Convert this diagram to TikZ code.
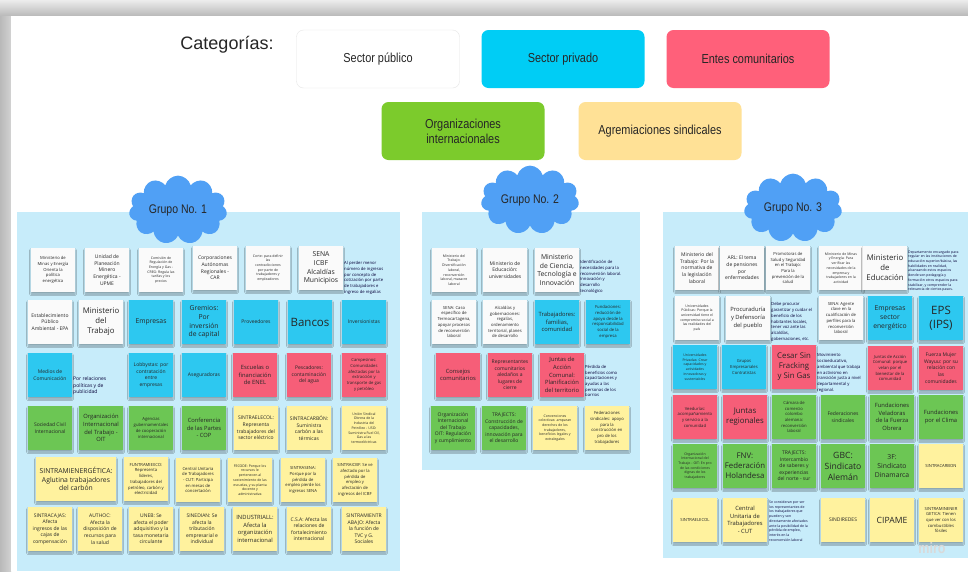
\documentclass[tikz,border=0pt]{standalone}
\usepackage{fontspec}
\setmainfont{Liberation Sans}
\newfontfamily\notefont{Open Sans}
\newfontfamily\hdfont[FakeStretch=0.84]{Liberation Sans}
\usetikzlibrary{shapes.symbols, shadows.blur}

\definecolor{panelblue}{RGB}{199,236,250}
\definecolor{notewhite}{RGB}{250,250,250}
\definecolor{notecyan}{RGB}{45,200,240}
\definecolor{notepink}{RGB}{246,94,120}
\definecolor{notegreen}{RGB}{108,198,84}
\definecolor{noteyellow}{RGB}{255,242,158}
\definecolor{catcyan}{RGB}{0,205,245}
\definecolor{catpink}{RGB}{255,96,122}
\definecolor{catgreen}{RGB}{124,203,44}
\definecolor{catyellow}{RGB}{255,225,150}
\definecolor{cloudblue}{RGB}{80,160,245}
\definecolor{textnavy}{RGB}{5,0,56}

\tikzset{
  notebase/.style={
    rectangle, minimum width=44pt, minimum height=44pt, inner sep=1pt,
    align=center, text=black!85,
    blur shadow={shadow xshift=0pt, shadow yshift=-2pt, shadow blur radius=1.5pt, shadow opacity=30}
  },
  pub/.style={notebase, fill=notewhite},
  priv/.style={notebase, fill=notecyan},
  com/.style={notebase, fill=notepink},
  intl/.style={notebase, fill=notegreen},
  sind/.style={notebase, fill=noteyellow},
  free/.style={anchor=west, align=left, text=textnavy, inner sep=0pt},
  s3/.style={font=\notefont\fontsize{3.5}{4.7}\selectfont},
  s4/.style={font=\notefont\fontsize{4.2}{5.7}\selectfont},
  s5/.style={font=\notefont\fontsize{5}{6.6}\selectfont},
  s6/.style={font=\notefont\fontsize{5.8}{7.6}\selectfont},
  s7/.style={font=\notefont\fontsize{6.8}{8.8}\selectfont},
  s8/.style={font=\notefont\fontsize{7.8}{10}\selectfont},
  s9/.style={font=\notefont\fontsize{8.6}{11}\selectfont},
  s12/.style={font=\notefont\fontsize{11.5}{14}\selectfont},
  cat/.style={
    rectangle, rounded corners=7pt, minimum width=163pt, minimum height=58pt,
    align=center, text=black!85, font=\hdfont\fontsize{13}{15}\selectfont
  },
  grupo/.style={
    cloud, cloud puffs=11, aspect=1.55, fill=cloudblue, minimum width=98pt,
    minimum height=62pt, inner sep=0pt, text=black!85, font=\hdfont\fontsize{12.5}{14}\selectfont
  }
}

\begin{document}
\begin{tikzpicture}[x=1pt, y=-1pt]
  \useasboundingbox (0,0) rectangle (968,571);

  % Frame
  \shade[top color=gray!15, bottom color=gray!55] (0,0) rectangle (968,16);
  \shade[left color=gray!55, right color=gray!35] (0,16) rectangle (11,571);
  \fill[white] (11,16) rectangle (968,571);

  % Categories
  \node[font=\fontsize{18}{20}\selectfont, text=black!85] (categ) at (227,45) {Categorías:};
  \node[cat, fill=white, draw=gray!20] (secpub) at (378,59) {Sector público};
  \node[cat, fill=catcyan] (secpriv) at (563,59) {Sector privado};
  \node[cat, fill=catpink] (entes) at (748,59) {Entes comunitarios};
  \node[cat, fill=catgreen] (orgint) at (463,131) {Organizaciones\\internacionales};
  \node[cat, fill=catyellow] (agrem) at (660,131) {Agremiaciones sindicales};

  % Panels
  \fill[panelblue] (17,212) rectangle (400,571);
  \fill[panelblue] (422,212) rectangle (640,470);
  \fill[panelblue] (663,212) rectangle (968,558);

  % Clouds
  \node[grupo] (grupo1) at (178,210) {Grupo No. 1};
  \node[grupo] (grupo2) at (530,200) {Grupo No. 2};
  \node[grupo] (grupo3) at (793,208) {Grupo No. 3};

  % Group 1
  \node[pub, s4] (minas) at (53,270) {Ministerio de\\Minas y Energía\\Orienta la\\política\\energética};
  \node[pub, s5] (upme) at (107,270) {Unidad de\\Planeación\\Minero\\Energética -\\UPME};
  \node[pub, s3] (creg) at (161,270) {Comisión de\\Regulación de\\Energía y Gas -\\CREG: Regula las\\tarifas y los\\precios};
  \node[pub, s5] (car) at (215,268) {Corporaciones\\Autónomas\\Regionales -\\CAR};
  \node[pub, s3] (corte) at (268,268) {Corte: para definir\\las\\contradicciones\\por parte de\\trabajadores y\\empleadores};
  \node[pub, s7] (sena) at (321,268) {SENA\\ICBF\\Alcaldías\\Municipios};
  \node[free, s4] (perder) at (344,278) {Al perder menor\\número de ingresos\\por concepto de\\cotización por parte\\de trabajadores e\\ingreso de regalías};

  \node[pub, s5] (epa) at (50,322) {Establecimiento\\Público\\Ambiental - EPA};
  \node[pub, s8] (mintrab) at (101,322) {Ministerio\\del\\Trabajo};
  \node[priv, s7] (empresas) at (151,322) {Empresas};
  \node[priv, s7] (gremios) at (204,322) {Gremios:\\Por\\inversión\\de capital};
  \node[priv, s5] (prov) at (256,322) {Proveedores};
  \node[priv, s12] (bancos) at (310,322) {Bancos};
  \node[priv, s5] (inver) at (364,322) {Inversionistas};

  \node[priv, s5] (medios) at (50,375) {Medios de\\Comunicación};
  \node[free, s5] (relac) at (73,386) {Por relaciones\\políticas y de\\publicidad};
  \node[priv, s5] (lobby) at (151,375) {Lobbystas: por\\contratación\\entre\\empresas};
  \node[priv, s5] (aseg) at (204,375) {Aseguradoras};
  \node[com, s6] (escuelas) at (255,375) {Escuelas o\\financiación\\de ENEL};
  \node[com, s5] (pesca) at (309,375) {Pescadores:\\contaminación\\del agua};
  \node[com, s4] (campes) at (364,375) {Campesinos:\\Comunidades\\afectadas por la\\extracción y\\transporte de gas\\y petróleo};

  \node[intl, s5] (socciv) at (50,428) {Sociedad Civil\\Internacional};
  \node[intl, s6] (oit1) at (101,428) {Organización\\Internacional\\del Trabajo -\\OIT};
  \node[intl, s4] (agencias) at (151,428) {Agencias\\gubernamentales\\de cooperación\\internacional};
  \node[intl, s6] (cop) at (204,428) {Conferencia\\de las Partes\\- COP};
  \node[sind, s5] (elecol1) at (256,428) {SINTRAELECOL:\\Representa\\trabajadores del\\sector eléctrico};
  \node[sind, s5] (carbon1) at (309,428) {SINTRACARBÓN:\\Suministra\\carbón a las\\térmicas};
  \node[sind, s3] (uso) at (364,428) {Unión Sindical\\Obrera de la\\Industria del\\Petróleo - USO:\\Suministra Fuel Oil,\\Gas a las\\termoeléctricas};

  \node[sind, s7, minimum width=80pt] (mienerg) at (76,479) {SINTRAMIENERGÉTICA:\\Aglutina trabajadores\\del carbón};
  \node[sind, s4] (funtra) at (146,479) {FUNTRAMIEXCO:\\Representa\\líderes,\\trabajadores del\\petróleo, carbón y\\electricidad};
  \node[sind, s4] (cut1) at (198,480) {Central Unitaria\\de Trabajadores\\- CUT: Participa\\en mesas de\\concertación};
  \node[sind, s3] (fecode) at (250,480) {FECODE: Porque los\\recursos le\\pertenecen al\\sostenimiento de las\\escuelas, y su planta\\docente y\\administrativa};
  \node[sind, s4] (trasena) at (303,480) {SINTRASENA:\\Porque por la\\pérdida de\\empleo pierde los\\ingresos SENA};
  \node[sind, s4] (icbf) at (355,480) {SINTRAICBF: Se ve\\afectado por la\\pérdida de\\empleo y\\afectación de\\ingresos del ICBF};

  \node[sind, s5] (cajas) at (50,529) {SINTRACAJAS:\\Afecta\\ingresos de las\\cajas de\\compensación};
  \node[sind, s5] (authoc) at (100,529) {AUTHOC:\\Afecta la\\disposición de\\recursos para\\la salud};
  \node[sind, s5] (uneb) at (151,529) {UNEB: Se\\afecta el poder\\adquisitivo y la\\tasa monetaria\\circulante};
  \node[sind, s5] (sinedian) at (202,529) {SINEDIAN: Se\\afecta la\\tributación\\empresarial e\\individual};
  \node[sind, s6] (industriall) at (255,529) {INDUSTRIALL:\\Afecta la\\organización\\internacional};
  \node[sind, s5] (csa) at (309,529) {C.S.A: Afecta las\\relaciones de\\fortalecimiento\\internacional};
  \node[sind, s5] (mientrab) at (364,529) {SINTRAMIENTR\\ABAJO: Afecta\\la función de\\TVC y G.\\Sociales};

  % Group 2
  \node[pub, s3] (mintrab2) at (454,270) {Ministerio del\\Trabajo:\\Diversificación\\laboral,\\reconversión\\laboral, masacre\\laboral};
  \node[pub, s5] (mined2) at (505,270) {Ministerio de\\Educación:\\universidades};
  \node[pub, s7] (minciencia) at (557,270) {Ministerio\\de Ciencia,\\Tecnología e\\Innovación};
  \node[free, s4] (identif) at (580,277) {Identificación de\\necesidades para la\\reconversión laboral.\\Innovación y\\desarrollo\\tecnológico};

  \node[pub, s4] (sena2) at (454,322) {SENA: Caso\\específico de\\Termocartagena,\\apoyar procesos\\de reconversión\\laboral};
  \node[pub, s4] (alcald) at (505,322) {Alcaldías y\\gobernaciones:\\regalías,\\ordenamiento\\territorial, planes\\de desarrollo};
  \node[priv, s6] (trabfam) at (557,322) {Trabajadores:\\familias,\\comunidad};
  \node[priv, s4] (fundac2) at (608,322) {Fundaciones:\\reducción de\\apoyo desde la\\responsabilidad\\social de la\\empresa};

  \node[com, s6] (consejos) at (458,375) {Consejos\\comunitarios};
  \node[com, s5] (repres) at (510,375) {Representantes\\comunitarios\\aledaños a\\lugares de\\cierre};
  \node[com, s6] (jac2) at (562,375) {Juntas de\\Acción\\Comunal:\\Planificación\\del territorio};
  \node[free, s4] (perdida) at (585,381) {Pérdida de\\beneficios como\\capacitaciones y\\ayudas a las\\personas de los\\barrios};

  \node[intl, s5] (oit2) at (453,428) {Organización\\Internacional\\del Trabajo\\OIT: Regulación\\y cumplimiento};
  \node[intl, s5] (traj2) at (504,428) {TRAJECTS:\\Construcción de\\capacidades,\\innovación para\\el desarrollo};
  \node[sind, s3] (convenc) at (555,428) {Convenciones\\colectivas: amparan\\derechos de los\\trabajadores,\\beneficios legales y\\extralegales};
  \node[sind, s4] (federa2) at (607,428) {Federaciones\\sindicales: apoyo\\para la\\construcción en\\pro de los\\trabajadores};

  % Group 3
  \node[pub, s5] (mintrab3) at (697,268) {Ministerio del\\Trabajo: Por la\\normativa de\\la legislación\\laboral};
  \node[pub, s5] (arl) at (742,268) {ARL: El tema\\de pensiones\\por\\enfermedades};
  \node[pub, s4] (promot) at (788,268) {Promotoras de\\Salud y Seguridad\\en el Trabajo:\\Para la\\prevención de la\\salud};
  \node[pub, s3] (minas3) at (841,268) {Ministerio de Minas\\y Energía: Para\\verificar las\\necesidades de la\\empresa y\\trabajadores en la\\actividad};
  \node[pub, s8] (mined3) at (885,268) {Ministerio\\de\\Educación};
  \node[free, s3] (depto) at (908,271) {Departamento encargado para\\regular en las instituciones de\\educación superior/básica, las\\habilidades en realidad,\\alcanzando estos espacios\\donde son pedagogía y\\formación otros espacios para\\stabilizar, y comprender la\\relevancia de ciertos pasos.};

  \node[pub, s3] (unipub) at (697,318) {Universidades\\Públicas: Porque la\\universidad tiene el\\compromiso social a\\las realidades del\\país};
  \node[pub, s6] (procur) at (748,318) {Procuraduría\\y Defensoría\\del pueblo};
  \node[free, s4] (debe) at (771,322) {Debe procurar\\garantizar y cuidar el\\beneficio de los\\habitantes locales,\\tener voz ante las\\alcaldías,\\gobernaciones, etc.};
  \node[pub, s4] (sena3) at (841,318) {SENA: Agente\\clave en la\\cualificación de\\perfiles para la\\reconversión\\laboral};
  \node[priv, s7] (empener) at (890,318) {Empresas\\sector\\energético};
  \node[priv, s12] (eps) at (941,318) {EPS\\(IPS)};

  \node[priv, s3] (unipriv) at (695,367) {Universidades\\Privadas: Crear\\capacidades y\\actividades\\innovadoras y\\sustentables};
  \node[priv, s4] (grupos) at (744,367) {Grupos\\Empresariales\\Contratistas};
  \node[com, s8] (cesar) at (794,367) {Cesar Sin\\Fracking\\y Sin Gas};
  \node[free, s4] (movim) at (817,373) {Movimiento\\socioeducativo,\\ambiental que trabaja\\en activismo en\\transición justa a nivel\\departamental y\\regional.};
  \node[com, s4] (jac3) at (890,368) {Juntas de Acción\\Comunal: porque\\velan por el\\bienestar de la\\comunidad};
  \node[com, s5] (wayuu) at (941,368) {Fuerza Mujer\\Wayuu: por su\\relación con\\las\\comunidades};

  \node[com, s4] (veed) at (695,417) {Veedurías:\\acompañamiento\\y servicio a la\\comunidad};
  \node[com, s8] (juntreg) at (745,417) {Juntas\\regionales};
  \node[intl, s4] (camara) at (794,417) {Cámara de\\comercio\\colombo\\alemana:\\reconversión\\laboral};
  \node[intl, s5] (federa3) at (843,417) {Federaciones\\sindicales};
  \node[intl, s6] (velad) at (892,417) {Fundaciones\\Veladoras\\de la Fuerza\\Obrera};
  \node[intl, s6] (clima) at (941,417) {Fundaciones\\por el Clima};

  \node[intl, s3] (oit3) at (695,466) {Organización\\Internacional del\\Trabajo - OIT: En pro\\de las condiciones\\dignas de los\\trabajadores};
  \node[intl, s8] (fnv) at (745,466) {FNV:\\Federación\\Holandesa};
  \node[intl, s5] (traj3) at (794,466) {TRAJECTS:\\Intercambio\\de saberes y\\experiencias\\del norte - sur};
  \node[intl, s9] (gbc) at (843,466) {GBC:\\Sindicato\\Alemán};
  \node[intl, s7] (tresf) at (892,466) {3F:\\Sindicato\\Dinamarca};
  \node[sind, s4] (carbon3) at (941,466) {SINTRACARBON};

  \node[sind, s4] (elecol3) at (695,520) {SINTRAELECOL};
  \node[sind, s6] (cut3) at (745,520) {Central\\Unitaria de\\Trabajadores\\- CUT};
  \node[free, s3] (consid) at (769,521) {Se consideran por ser\\los representantes de\\los trabajadores que\\pueden y son\\directamente afectados\\ante la posibilidad de la\\pérdida de empleo,\\interés en la\\reconversión laboral};
  \node[sind, s5] (sindired) at (843,520) {SINDIREDES};
  \node[sind, s9] (cipame) at (892,520) {CIPAME};
  \node[sind, s4] (minener3) at (941,520) {SINTRAMINENER\\GETICA: Tienen\\que ver con los\\combustibles\\fósiles};

  \node[font=\hdfont\bfseries\fontsize{15}{17}\selectfont, text=gray!30] (miro) at (932,548) {miro};
\end{tikzpicture}
\end{document}
